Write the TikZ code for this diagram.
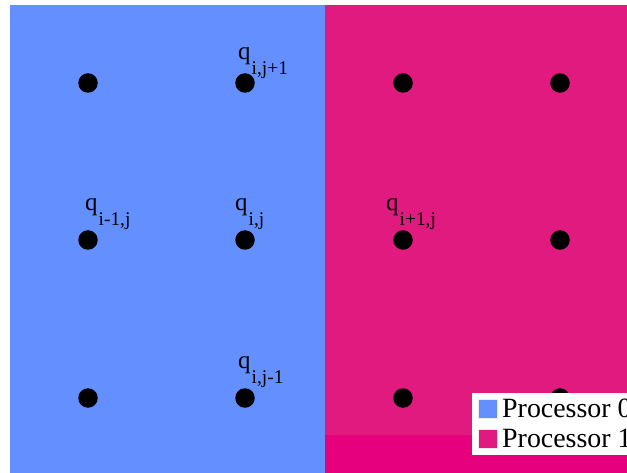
\documentclass[tikz,border=0pt]{standalone}
\usepackage{fontspec}
\setmainfont{Liberation Serif}
\definecolor{procblue}{HTML}{648FFF}
\definecolor{procpink}{HTML}{E11A7F}
\definecolor{procmag}{HTML}{E6007E}
\newcommand{\qlabel}[1]{{\fontsize{25}{25}\selectfont q}\hspace{1bp}\raisebox{-15bp}{\fontsize{19.5}{20}\selectfont #1}}
\begin{document}
\begin{tikzpicture}[x=1bp,y=-1bp,
  gridpt/.style={circle,fill=black,inner sep=0pt,minimum size=19.5bp},
  qlab/.style={anchor=base west,inner sep=0pt,text=black},
  legtext/.style={anchor=base west,inner sep=0pt,font=\fontsize{28}{30}\selectfont},
  legsq/.style={draw=white!85!gray,line width=0.6bp}]
\useasboundingbox (0,0) rectangle (627,473);
\fill[white] (0,0) rectangle (627,473);
% processor regions
\fill[procblue] (10,5) rectangle (324.5,473);
\fill[procpink] (324.5,5) rectangle (627,473);
\fill[procmag] (324.5,435) rectangle (627,473);
% grid points
\foreach \i/\x in {1/88,2/245,3/403,4/560}{
  \foreach \j/\y in {1/83,2/240,3/398}{
    \node[gridpt] (p\i\j) at (\x,\y) {};
  }
}
% labels
\node[qlab] (lup) at (238,60) {\qlabel{i,j+1}};
\node[qlab] (lleft) at (85,211) {\qlabel{i-1,j}};
\node[qlab] (lmid) at (235,211) {\qlabel{i,j}};
\node[qlab] (lright) at (386,211) {\qlabel{i+1,j}};
\node[qlab] (ldown) at (238,368.5) {\qlabel{i,j-1}};
% legend
\fill[white] (472,393) rectangle (627,455);
\filldraw[procblue,legsq] (478.5,399.5) rectangle (497,418);
\filldraw[procpink,legsq] (478.5,429.5) rectangle (497,448);
\node[legtext] (leg0) at (502,417.5) {Processor 0};
\node[legtext] (leg1) at (502,447.5) {Processor 1};
\end{tikzpicture}
\end{document}
